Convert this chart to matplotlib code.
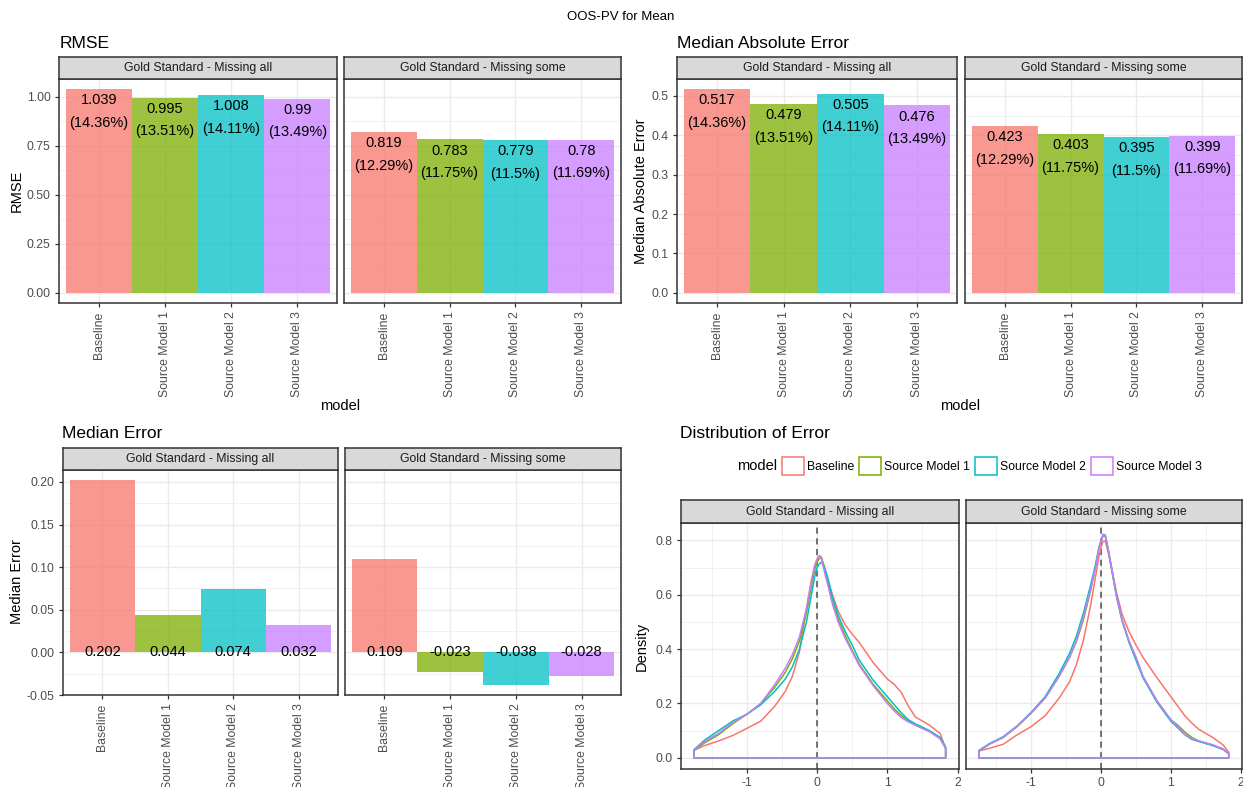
import numpy as np
import matplotlib.pyplot as plt
from matplotlib.patches import Patch
from matplotlib.ticker import FormatStrFormatter, MultipleLocator

plt.rcParams['font.family'] = ['Liberation Sans', 'DejaVu Sans']
plt.rcParams['axes.unicode_minus'] = False

W, H = 1243, 787

# ---- data ----
models = ['Baseline', 'Source Model 1', 'Source Model 2', 'Source Model 3']
facets = ['Gold Standard - Missing all', 'Gold Standard - Missing some']
colors = ['#F8766D', '#7CAE00', '#00BFC4', '#C77CFF']

rmse_all = [1.039, 0.995, 1.008, 0.99]
rmse_some = [0.819, 0.783, 0.779, 0.78]
pct_all = [14.36, 13.51, 14.11, 13.49]
pct_some = [12.29, 11.75, 11.5, 11.69]

mae_all = [0.517, 0.479, 0.505, 0.476]
mae_some = [0.423, 0.403, 0.395, 0.399]

me_all = [0.202, 0.044, 0.074, 0.032]
me_some = [0.109, -0.023, -0.038, -0.028]

# density curves
dens_x = [-1.75, -1.6, -1.4, -1.2, -1.0, -0.8, -0.6, -0.45, -0.35, -0.25, -0.15, -0.08, -0.03, 0.0,
          0.03, 0.06, 0.1, 0.15, 0.22, 0.3, 0.4, 0.5, 0.6, 0.8, 1.0, 1.1, 1.2, 1.3, 1.4, 1.6, 1.75, 1.83]
dens_all_base = [0.028, 0.045, 0.062, 0.082, 0.108, 0.135, 0.19, 0.245, 0.30, 0.39, 0.55, 0.655, 0.71, 0.73,
                 0.744, 0.74, 0.705, 0.66, 0.60, 0.54, 0.49, 0.455, 0.425, 0.35, 0.29, 0.27, 0.24, 0.19,
                 0.15, 0.12, 0.09, 0.035]
dens_all_sm1 = [0.026, 0.055, 0.085, 0.125, 0.16, 0.2, 0.26, 0.315, 0.365, 0.43, 0.535, 0.63, 0.695, 0.72,
                0.733, 0.735, 0.705, 0.65, 0.575, 0.51, 0.45, 0.395, 0.345, 0.27, 0.21, 0.18, 0.155, 0.135,
                0.12, 0.098, 0.072, 0.035]
dens_all_sm2 = [0.03, 0.065, 0.1, 0.135, 0.16, 0.195, 0.245, 0.29, 0.335, 0.40, 0.50, 0.60, 0.67, 0.70,
                0.712, 0.72, 0.705, 0.665, 0.59, 0.525, 0.465, 0.415, 0.36, 0.285, 0.225, 0.195, 0.165, 0.14,
                0.125, 0.1, 0.075, 0.04]
dens_all_sm3 = [0.028, 0.06, 0.09, 0.13, 0.16, 0.2, 0.27, 0.33, 0.38, 0.445, 0.55, 0.645, 0.71, 0.73,
                0.742, 0.735, 0.69, 0.64, 0.565, 0.50, 0.44, 0.39, 0.34, 0.265, 0.2, 0.172, 0.148, 0.132,
                0.12, 0.096, 0.07, 0.035]

dens_some_base = [0.025, 0.035, 0.05, 0.085, 0.115, 0.155, 0.22, 0.28, 0.345, 0.435, 0.56, 0.665, 0.74, 0.775,
                  0.797, 0.798, 0.76, 0.70, 0.61, 0.53, 0.465, 0.415, 0.37, 0.295, 0.225, 0.19, 0.155, 0.128,
                  0.105, 0.075, 0.047, 0.02]
dens_some_sm1 = [0.025, 0.05, 0.075, 0.115, 0.165, 0.22, 0.30, 0.37, 0.43, 0.51, 0.615, 0.70, 0.77, 0.795,
                 0.818, 0.815, 0.77, 0.70, 0.60, 0.51, 0.43, 0.37, 0.30, 0.21, 0.14, 0.12, 0.095, 0.075,
                 0.062, 0.047, 0.032, 0.015]
dens_some_sm2 = [0.027, 0.052, 0.078, 0.118, 0.168, 0.225, 0.31, 0.385, 0.45, 0.535, 0.635, 0.71, 0.775, 0.80,
                 0.822, 0.82, 0.77, 0.695, 0.595, 0.505, 0.425, 0.36, 0.295, 0.205, 0.135, 0.11, 0.085, 0.068,
                 0.06, 0.045, 0.03, 0.015]
dens_some_sm3 = [0.025, 0.05, 0.076, 0.116, 0.165, 0.22, 0.30, 0.37, 0.435, 0.52, 0.62, 0.70, 0.77, 0.795,
                 0.822, 0.82, 0.77, 0.70, 0.60, 0.51, 0.43, 0.37, 0.30, 0.21, 0.14, 0.115, 0.087, 0.07,
                 0.062, 0.048, 0.032, 0.015]

fig = plt.figure(figsize=(W / 100, H / 100), dpi=100)
fig.patch.set_facecolor('white')


def box(l, t, r, b):
    return [l / W, 1 - b / H, (r - l) / W, (b - t) / H]


def style_panel(ax, show_y):
    ax.set_facecolor('white')
    for s in ax.spines.values():
        s.set_color('#333333')
        s.set_linewidth(1.1)
    ax.set_axisbelow(True)
    ax.grid(True, which='major', color='#EBEBEB', lw=1.0)
    ax.grid(True, which='minor', color='#EBEBEB', lw=0.5)
    ax.tick_params(which='major', length=3, width=0.9, color='#333333',
                   labelcolor='#4D4D4D', labelsize=8.8, pad=3)
    ax.tick_params(which='minor', length=0)
    if not show_y:
        ax.tick_params(axis='y', left=False, labelleft=False)


def strip(l, t, r, b, label):
    s = fig.add_axes(box(l, t, r, b))
    s.set_facecolor('#D9D9D9')
    s.set_xticks([])
    s.set_yticks([])
    for sp in s.spines.values():
        sp.set_color('#333333')
        sp.set_linewidth(1.1)
    s.text(0.5, 0.5, label, ha='center', va='center', fontsize=8.8,
           color='#1A1A1A', transform=s.transAxes)


def bar_panel(rect, vals, pct, ylim, step, fmt, show_y, mode):
    ax = fig.add_axes(box(*rect))
    x = np.arange(len(models))
    ax.bar(x, vals, width=1.0, color=colors, alpha=0.75, zorder=2)
    ax.set_xlim(-0.6, 3.6)
    ax.set_ylim(*ylim)
    ax.yaxis.set_major_locator(MultipleLocator(step))
    ax.yaxis.set_minor_locator(MultipleLocator(step / 2))
    ax.yaxis.set_major_formatter(FormatStrFormatter(fmt))
    ax.set_xticks(x)
    ax.set_xticklabels(models, rotation=90, va='top', ha='center')
    style_panel(ax, show_y)
    for i, v in enumerate(vals):
        if mode == 'top':
            ax.annotate(f'{v:g}\n({pct[i]:g}%)', xy=(i, v), xytext=(0, -3),
                        textcoords='offset points', ha='center', va='top',
                        fontsize=10.5, linespacing=1.75, color='black', zorder=3)
        else:
            ax.text(i, 0, f'{v:g}', ha='center', va='center', fontsize=10.5,
                    color='black', zorder=3)
    return ax


def dens_panel(rect, curves, show_y):
    ax = fig.add_axes(box(*rect))
    ax.axvline(0, color='#4D4D4D', ls=(0, (4, 3)), lw=1.1, zorder=1.5)
    for ys, c in zip(curves, colors):
        xs = [dens_x[0]] + dens_x + [dens_x[-1], dens_x[0]]
        yy = [0] + ys + [0, 0]
        ax.plot(xs, yy, color=c, lw=1.1, zorder=2)
    ax.set_xlim(-1.935, 2.02)
    ax.set_ylim(-0.0412, 0.864)
    ax.xaxis.set_major_locator(MultipleLocator(1))
    ax.xaxis.set_minor_locator(MultipleLocator(0.5))
    ax.yaxis.set_major_locator(MultipleLocator(0.2))
    ax.yaxis.set_minor_locator(MultipleLocator(0.1))
    ax.xaxis.set_major_formatter(FormatStrFormatter('%g'))
    ax.yaxis.set_major_formatter(FormatStrFormatter('%.1f'))
    style_panel(ax, show_y)
    return ax


# ---- RMSE ----
rmse_lim = (-0.052, 1.091)
bar_panel((59, 79, 337, 303), rmse_all, pct_all, rmse_lim, 0.25, '%.2f', True, 'top')
bar_panel((344, 79, 621, 303), rmse_some, pct_some, rmse_lim, 0.25, '%.2f', False, 'top')
strip(59, 57, 337, 79, facets[0])
strip(344, 57, 621, 79, facets[1])
fig.text(60 / W, 1 - 43 / H, 'RMSE', fontsize=12.5, va='center', ha='left')
fig.text(17 / W, 1 - 191 / H, 'RMSE', fontsize=10.5, rotation=90, va='center', ha='center')
fig.text(340 / W, 1 - 406 / H, 'model', fontsize=10.5, va='center', ha='center')

# ---- Median Absolute Error ----
mae_lim = (-0.026, 0.543)
bar_panel((677, 79, 957, 303), mae_all, pct_all, mae_lim, 0.1, '%.1f', True, 'top')
bar_panel((965, 79, 1242, 303), mae_some, pct_some, mae_lim, 0.1, '%.1f', False, 'top')
strip(677, 57, 957, 79, facets[0])
strip(965, 57, 1242, 79, facets[1])
fig.text(677 / W, 1 - 43 / H, 'Median Absolute Error', fontsize=12.5, va='center', ha='left')
fig.text(641 / W, 1 - 191 / H, 'Median Absolute Error', fontsize=10.5, rotation=90,
         va='center', ha='center')
fig.text(960 / W, 1 - 406 / H, 'model', fontsize=10.5, va='center', ha='center')

# ---- Median Error ----
me_lim = (-0.05, 0.214)
bar_panel((63, 470, 338, 695), me_all, None, me_lim, 0.05, '%.2f', True, 'zero')
bar_panel((345, 470, 621, 695), me_some, None, me_lim, 0.05, '%.2f', False, 'zero')
strip(63, 448, 338, 470, facets[0])
strip(345, 448, 621, 470, facets[1])
fig.text(62 / W, 1 - 433 / H, 'Median Error', fontsize=12.5, va='center', ha='left')
fig.text(17 / W, 1 - 582 / H, 'Median Error', fontsize=10.5, rotation=90, va='center', ha='center')

# ---- Distribution of Error ----
dens_panel((681, 523, 959, 769), [dens_all_base, dens_all_sm1, dens_all_sm2, dens_all_sm3], True)
dens_panel((966, 523, 1242, 769), [dens_some_base, dens_some_sm1, dens_some_sm2, dens_some_sm3], False)
strip(681, 500, 959, 523, facets[0])
strip(966, 500, 1242, 523, facets[1])
fig.text(680 / W, 1 - 433 / H, 'Distribution of Error', fontsize=12.5, va='center', ha='left')
fig.text(642 / W, 1 - 646 / H, 'Density', fontsize=10.5, rotation=90, va='center', ha='center')

fig.text(737 / W, 1 - 466 / H, 'model', fontsize=10.5, va='center', ha='left')
handles = [Patch(facecolor='white', edgecolor=c, linewidth=1.1) for c in colors]
fig.legend(handles, models, ncol=4, loc='center left', bbox_to_anchor=(782 / W, 1 - 466 / H),
           frameon=False, fontsize=8.8, handlelength=1.8, handleheight=1.8,
           handletextpad=0.25, columnspacing=0.4, borderpad=0, borderaxespad=0)

fig.text(621 / W, 1 - 17 / H, 'OOS-PV for Mean', fontsize=9.5, va='center', ha='center')

fig.savefig('out.png', dpi=100)
